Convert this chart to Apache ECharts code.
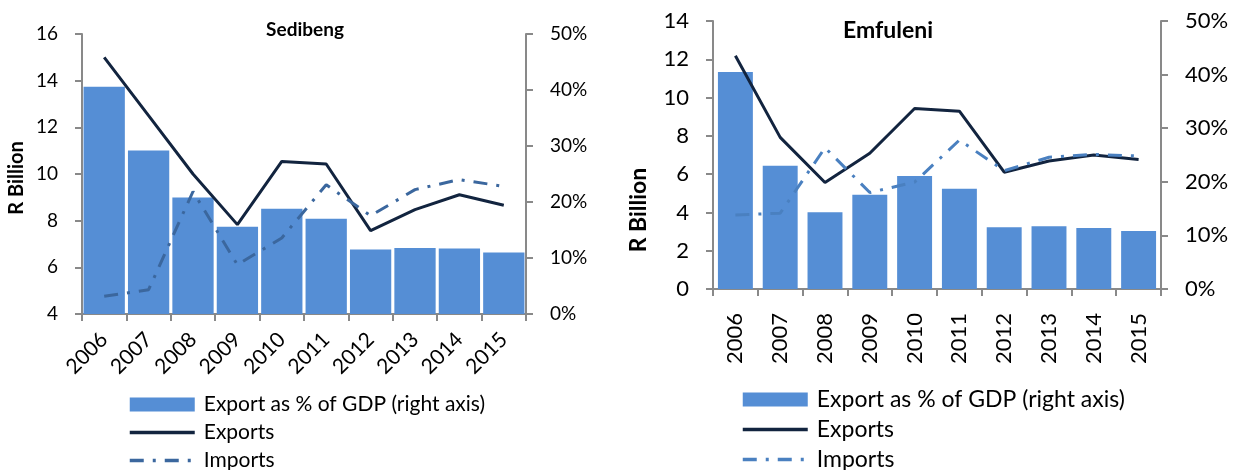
<!DOCTYPE html>
<html>
<head>
<meta charset="utf-8">
<script src="https://cdn.jsdelivr.net/npm/echarts@6/dist/echarts.min.js"></script>
<style>
  html, body { margin: 0; padding: 0; background: #fff; }
  #left { position: absolute; left: 0; top: 0; width: 620px; height: 470px; }
  #right { position: absolute; left: 620px; top: 0; width: 618px; height: 470px; }
</style>
</head>
<body>
<div id="left"></div>
<div id="right"></div>
<script>
// ---- data ----
const years = ['2006', '2007', '2008', '2009', '2010', '2011', '2012', '2013', '2014', '2015'];
const seriesNames = ['Export as % of GDP (right axis)', 'Exports', 'Imports'];

const sedibengExportPct = [40.6, 29.2, 20.8, 15.6, 18.8, 17.0, 11.5, 11.8, 11.7, 11.0];
const sedibengExports = [15.0, 12.5, 10.0, 7.83, 10.54, 10.43, 7.57, 8.47, 9.11, 8.66];
const sedibengImports = [4.76, 5.04, 9.25, 6.11, 7.26, 9.54, 8.21, 9.33, 9.76, 9.47];

const emfuleniExportPct = [40.5, 23.0, 14.3, 17.6, 21.1, 18.7, 11.5, 11.7, 11.4, 10.8];
const emfuleniExports = [12.18, 7.92, 5.56, 7.09, 9.43, 9.29, 6.10, 6.69, 7.0, 6.77];
const emfuleniImports = [3.87, 3.96, 7.38, 5.04, 5.58, 7.78, 6.18, 6.88, 7.03, 6.95];

const sedibengLeftAxis = { min: 4, max: 16, interval: 2 };
const emfuleniLeftAxis = { min: 0, max: 14, interval: 2 };
const pctAxis = { min: 0, max: 50, interval: 10 };

// ---- styles ----
const FONT = 'Lato, "Open Sans", sans-serif';
const AXIS_GRAY = '#898989';
const BAR_BLUE = '#558ED5';
const EXPORT_NAVY = '#12243F';

function buildOption(cfg) {
  const axisLine = { show: true, lineStyle: { color: AXIS_GRAY, width: 2 } };
  const axisTick = { show: true, length: 7, lineStyle: { color: AXIS_GRAY, width: 2 } };
  const hiddenSymbol = { opacity: 0 };
  return {
    animation: false,
    title: {
      text: cfg.title,
      left: cfg.titleX,
      top: cfg.titleY,
      textAlign: 'center',
      textStyle: { fontFamily: FONT, fontWeight: 'bold', fontSize: cfg.titleSize, color: '#000' }
    },
    grid: { left: cfg.grid[0], top: cfg.grid[1], width: cfg.grid[2], height: cfg.grid[3], containLabel: false },
    legend: {
      orient: 'vertical',
      left: cfg.legendX,
      top: cfg.legendY,
      height: 200,
      padding: 0,
      itemWidth: 65,
      itemHeight: 14,
      itemGap: cfg.legendGap,
      selectedMode: false,
      textStyle: { fontFamily: FONT, fontSize: cfg.legendSize, color: '#000', padding: [0, 0, 0, 4] },
      data: [
        { name: seriesNames[0], icon: 'rect' },
        { name: seriesNames[1], itemStyle: hiddenSymbol, lineStyle: { width: 3.5 } },
        { name: seriesNames[2], itemStyle: hiddenSymbol, lineStyle: { width: 3.5 } }
      ]
    },
    xAxis: {
      type: 'category',
      data: years,
      axisLine: axisLine,
      axisTick: { show: true, length: 7, alignWithLabel: false, lineStyle: { color: AXIS_GRAY, width: 2 } },
      axisLabel: { rotate: cfg.labelRotate, margin: cfg.xLabelMargin, fontFamily: FONT, fontSize: cfg.xTickSize, color: '#000', interval: 0 },
      splitLine: { show: false }
    },
    yAxis: [
      {
        type: 'value',
        min: cfg.leftAxis.min, max: cfg.leftAxis.max, interval: cfg.leftAxis.interval,
        axisLine: axisLine, axisTick: axisTick,
        axisLabel: { margin: cfg.yLabelMargin, fontFamily: FONT, fontSize: cfg.tickSize, color: '#000' },
        splitLine: { show: false }
      },
      {
        type: 'value',
        position: 'right',
        min: pctAxis.min, max: pctAxis.max, interval: pctAxis.interval,
        axisLine: axisLine, axisTick: axisTick,
        axisLabel: { margin: cfg.yLabelMargin, fontFamily: FONT, fontSize: cfg.tickSize, color: '#000', formatter: '{value}%' },
        splitLine: { show: false }
      }
    ],
    graphic: [{
      type: 'text',
      x: cfg.nameX,
      y: cfg.nameY,
      rotation: Math.PI / 2,
      style: {
        text: 'R Billion',
        font: 'bold ' + cfg.nameSize + 'px ' + FONT,
        fill: '#000',
        align: 'center',
        verticalAlign: 'middle'
      }
    }],
    series: [
      {
        name: seriesNames[0], type: 'bar', yAxisIndex: 1,
        data: cfg.pct, barCategoryGap: cfg.barGap,
        itemStyle: { color: BAR_BLUE }
      },
      {
        name: seriesNames[1], type: 'line', yAxisIndex: 0,
        data: cfg.exp, symbol: 'none',
        lineStyle: { color: EXPORT_NAVY, width: 3 }, itemStyle: { color: EXPORT_NAVY }
      },
      {
        name: seriesNames[2], type: 'line', yAxisIndex: 0,
        data: cfg.imp, symbol: 'none',
        lineStyle: { color: cfg.impColor, width: 3, type: [14, 9, 3, 9] }, itemStyle: { color: cfg.impColor }
      }
    ]
  };
}

const leftChart = echarts.init(document.getElementById('left'), null, { renderer: 'canvas' });
leftChart.setOption(buildOption({
  title: 'Sedibeng', titleX: 300, titleY: 15, titleSize: 19,
  grid: [82, 34, 444, 280],
  legendX: 128, legendY: 394, legendGap: 7, legendSize: 21,
  labelRotate: 45, xLabelMargin: 22, yLabelMargin: 24, tickSize: 19, xTickSize: 21,
  leftAxis: sedibengLeftAxis,
  nameX: 17, nameY: 178, nameSize: 20,
  pct: sedibengExportPct, exp: sedibengExports, imp: sedibengImports,
  barGap: '7%', impColor: '#3B679E'
}));

const rightChart = echarts.init(document.getElementById('right'), null, { renderer: 'canvas' });
rightChart.setOption(buildOption({
  title: 'Emfuleni', titleX: 263, titleY: 14, titleSize: 23,
  grid: [93, 21, 448, 268],
  legendX: 121, legendY: 388, legendGap: 7, legendSize: 23,
  labelRotate: 90, xLabelMargin: 24, yLabelMargin: 24, tickSize: 22, xTickSize: 22,
  leftAxis: emfuleniLeftAxis,
  nameX: 19, nameY: 210, nameSize: 23,
  pct: emfuleniExportPct, exp: emfuleniExports, imp: emfuleniImports,
  barGap: '22%', impColor: '#4A80C0'
}));
</script>
</body>
</html>
